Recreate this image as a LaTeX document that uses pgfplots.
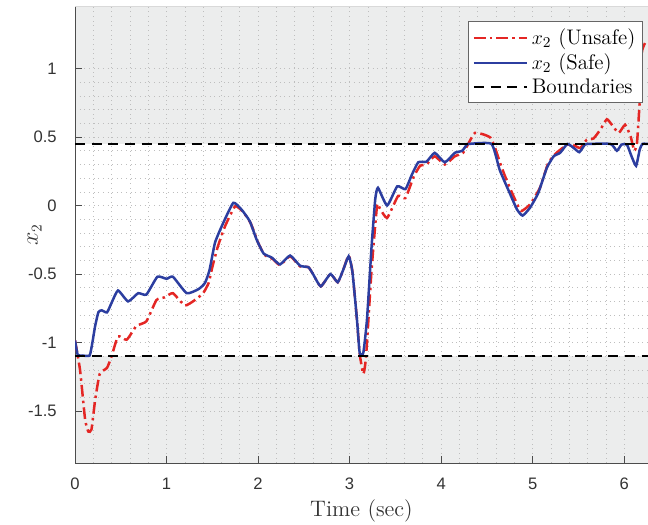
\documentclass[border=0pt]{standalone}
\usepackage{fontspec}
\newfontfamily\tickfont{Liberation Sans}
\usepackage{pgfplots}
\pgfplotsset{compat=1.18}
\usetikzlibrary{calc}
\definecolor{unsafe}{RGB}{228,38,36}
\definecolor{safe}{RGB}{44,62,160}
\definecolor{shade}{RGB}{236,237,237}
\definecolor{gridc}{RGB}{190,190,190}
\begin{document}
\begin{tikzpicture}
\begin{axis}[name=ax,
  width=343.8bp, height=273.6bp, scale only axis,
  xmin=0, xmax=6.26, ymin=-1.88, ymax=1.45,
  xtick={0,1,2,3,4,5,6}, ytick={-1.5,-1,-0.5,0,0.5,1},
  minor x tick num=4, minor y tick num=4,
  grid=both,
  grid style={gridc, line width=0.4pt, dash pattern=on 0.4pt off 2.4pt},
  major grid style={gridc, line width=0.4pt, dash pattern=on 0.4pt off 2.4pt},
  minor grid style={gridc, line width=0.4pt, dash pattern=on 0.4pt off 2.4pt},
  tick align=inside, major tick length=4bp, minor tick length=0pt,
  axis x line*=bottom, axis y line*=left,
  axis line style={-, black!70, line width=0.5pt},
  tick style={black!70, line width=0.5pt},
  set layers,
  ticklabel style={font=\tickfont\fontsize{10}{12}\selectfont, text=black!80},
  /pgf/number format/assume math mode=true,
  yticklabel style={xshift=-7.5pt}, xticklabel style={yshift=-5.5pt},
  xlabel={Time (sec)}, ylabel={$x_2$},
  xlabel style={font=\fontsize{13.5}{16}\selectfont, text=black!80, yshift=1pt},
  ylabel style={font=\fontsize{13.5}{16}\selectfont, text=black!80, yshift=-15pt},
  legend style={at={(0.991,0.969)}, anchor=north east, draw=black!60, line width=0.5pt,
    fill=white, font=\fontsize{12.7}{15}\selectfont, inner sep=2.3pt, row sep=0pt,
    cells={anchor=west}},
  legend image code/.code={\draw[#1] (0bp,0bp) -- (32bp,0bp);},
]
\addplot[draw=none, fill=shade, on layer=axis background, forget plot]
  coordinates {(0,0.45) (6.26,0.45) (6.26,1.45) (0,1.45)} -- cycle;
\addplot[draw=none, fill=shade, on layer=axis background, forget plot]
  coordinates {(0,-1.88) (6.26,-1.88) (6.26,-1.1) (0,-1.1)} -- cycle;

\addplot[unsafe, line width=1.5bp, dash pattern=on 7bp off 2.5bp on 1.5bp off 2.5bp, smooth, tension=0.3]
coordinates {
(0,-0.985) (0.055,-1.2) (0.11,-1.56) (0.145,-1.65) (0.18,-1.635) (0.22,-1.42)
(0.27,-1.23) (0.35,-1.185) (0.40,-1.10) (0.47,-0.955) (0.565,-0.98) (0.67,-0.88)
(0.78,-0.845) (0.89,-0.69) (0.98,-0.67) (1.07,-0.64) (1.20,-0.73) (1.31,-0.69)
(1.40,-0.64) (1.46,-0.565) (1.50,-0.45) (1.56,-0.30) (1.64,-0.15) (1.75,-0.005)
(1.84,-0.05) (1.92,-0.13) (2.0,-0.27) (2.07,-0.36) (2.16,-0.39) (2.24,-0.435)
(2.35,-0.37) (2.46,-0.445) (2.55,-0.45) (2.60,-0.50) (2.685,-0.59) (2.79,-0.50)
(2.87,-0.56) (2.93,-0.47) (2.99,-0.365) (3.03,-0.48) (3.08,-0.83) (3.11,-1.08)
(3.15,-1.23) (3.18,-1.10) (3.24,-0.47) (3.30,0.0) (3.33,-0.02) (3.41,-0.09)
(3.53,0.07) (3.61,0.055) (3.70,0.21) (3.77,0.29) (3.84,0.30) (3.93,0.36)
(4.04,0.30) (4.15,0.36) (4.24,0.385) (4.32,0.48) (4.37,0.53) (4.46,0.52)
(4.54,0.495) (4.59,0.42) (4.66,0.28) (4.75,0.13) (4.85,-0.017) (4.88,-0.04)
(4.97,0.007) (5.08,0.13) (5.17,0.31) (5.26,0.385) (5.38,0.445) (5.45,0.44)
(5.52,0.42) (5.59,0.48) (5.665,0.49) (5.74,0.555) (5.81,0.63) (5.865,0.59)
(5.94,0.53) (6.01,0.59) (6.07,0.505) (6.11,0.40) (6.14,0.46) (6.17,0.77)
(6.19,1.11) (6.23,1.19) (6.27,1.20)
};
\addlegendentry{$x_2$ (Unsafe)}

\addplot[safe, line width=1.5bp, smooth, tension=0.3]
coordinates {
(0,-0.985) (0.03,-1.09) (0.08,-1.095) (0.16,-1.095) (0.19,-1.0) (0.22,-0.88)
(0.255,-0.78) (0.29,-0.765) (0.35,-0.78) (0.40,-0.71) (0.47,-0.62) (0.58,-0.70)
(0.69,-0.64) (0.78,-0.65) (0.90,-0.52) (1.0,-0.535) (1.07,-0.52) (1.22,-0.64)
(1.35,-0.61) (1.42,-0.565) (1.47,-0.47) (1.53,-0.27) (1.62,-0.126) (1.73,0.02)
(1.82,-0.03) (1.91,-0.115) (1.985,-0.25) (2.06,-0.35) (2.15,-0.38) (2.24,-0.43)
(2.35,-0.365) (2.46,-0.44) (2.55,-0.45) (2.60,-0.50) (2.685,-0.59) (2.79,-0.50)
(2.87,-0.56) (2.93,-0.47) (2.99,-0.37) (3.03,-0.48) (3.08,-0.83) (3.11,-1.075)
(3.15,-1.075) (3.19,-0.83) (3.24,-0.30) (3.28,0.045) (3.31,0.13) (3.41,0.0)
(3.52,0.14) (3.61,0.12) (3.68,0.225) (3.75,0.316) (3.84,0.32) (3.93,0.385)
(4.04,0.316) (4.15,0.385) (4.23,0.40) (4.28,0.445) (4.30,0.45) (4.55,0.45)
(4.64,0.26) (4.75,0.09) (4.83,-0.03) (4.89,-0.073) (4.97,-0.017) (5.06,0.09)
(5.155,0.275) (5.23,0.36) (5.30,0.385) (5.38,0.45) (5.45,0.42) (5.51,0.39)
(5.57,0.445) (5.60,0.45) (5.85,0.45) (5.92,0.40) (5.97,0.445) (6.03,0.445)
(6.08,0.36) (6.13,0.29) (6.17,0.41) (6.20,0.45) (6.27,0.45)
};
\addlegendentry{$x_2$ (Safe)}

\addplot[black, line width=1.5bp, dash pattern=on 6bp off 4bp] coordinates {(0,0.45) (6.26,0.45)};
\addlegendentry{Boundaries}
\addplot[black, line width=1.5bp, dash pattern=on 6bp off 4bp, forget plot] coordinates {(0,-1.1) (6.26,-1.1)};
\end{axis}
\draw[black!15, line width=0.6pt] (ax.north west) -- (ax.north east);
\pgfresetboundingbox
\path[use as bounding box] ([shift={(-45bp,-37.2bp)}]ax.south west) rectangle ([shift={(0bp,4.2bp)}]ax.north east);
\end{tikzpicture}
\end{document}
